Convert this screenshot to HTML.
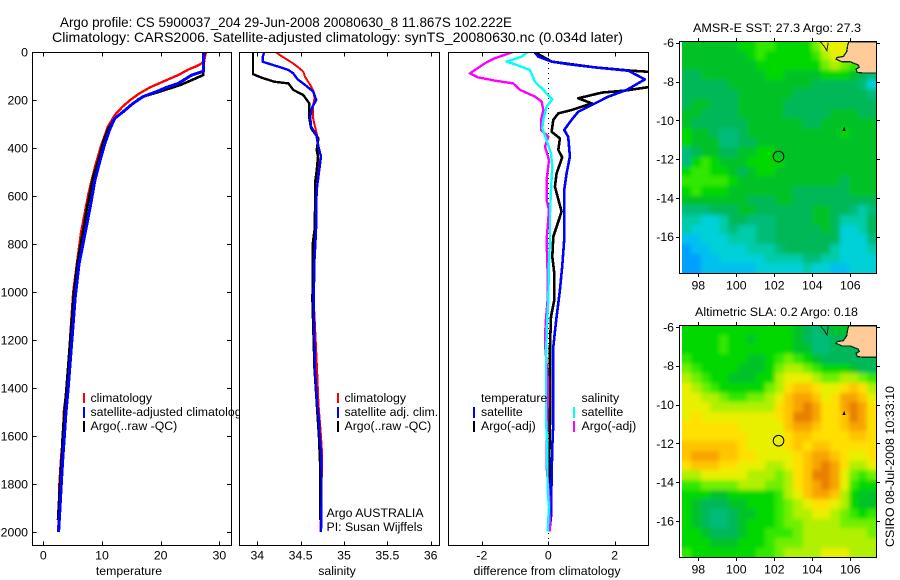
<!DOCTYPE html>
<html>
<head>
<meta charset="utf-8">
<title>Argo profile 5900037</title>
<style>
html,body{margin:0;padding:0;background:#fff;}
svg{display:block;}
text{font-family:"Liberation Sans",sans-serif;font-size:12.3px;fill:#000;}
.ttl{font-size:14px;}
</style>
</head>
<body>
<svg id="fig" width="900" height="580" viewBox="0 0 900 580" xmlns="http://www.w3.org/2000/svg">
<defs>
<clipPath id="clip-temp"><rect x="33" y="53" width="198" height="492"/></clipPath>
<clipPath id="clip-sal"><rect x="240" y="53" width="199" height="492"/></clipPath>
<clipPath id="clip-diff"><rect x="449" y="53" width="199" height="492"/></clipPath>
<clipPath id="clip-map1"><rect x="682" y="42" width="195" height="231"/></clipPath>
<clipPath id="clip-map2"><rect x="682" y="326" width="195" height="231"/></clipPath>
<filter id="soften" x="-5%" y="-5%" width="110%" height="110%">
<feGaussianBlur in="SourceGraphic" stdDeviation="2.2" result="blur"/>
<feMerge><feMergeNode in="SourceGraphic"/><feMergeNode in="blur"/></feMerge>
</filter>
</defs>
<text class="ttl" x="60" y="27" textLength="452" lengthAdjust="spacingAndGlyphs">Argo profile: CS 5900037_204 29-Jun-2008 20080630_8 11.867S 102.222E</text>
<text class="ttl" x="52" y="42" textLength="571" lengthAdjust="spacingAndGlyphs">Climatology: CARS2006. Satellite-adjusted climatology: synTS_20080630.nc (0.034d later)</text>

<g id="temp-plot"></g>
<g>
<rect x="83" y="393" width="2" height="10" fill="#ff0000"/>
<rect x="83" y="407" width="2" height="11" fill="#0000ff"/>
<rect x="83" y="421" width="2" height="11" fill="#000"/>
<text x="90.5" y="402">climatology</text>
<text x="90.5" y="416">satellite-adjusted climatology</text>
<text x="90.5" y="430">Argo(..raw -QC)</text>
</g>
<text x="129" y="575" text-anchor="middle">temperature</text>

<g id="sal-plot"></g>
<g>
<rect x="337" y="393" width="2" height="10" fill="#ff0000"/>
<rect x="337" y="407" width="2" height="11" fill="#0000ff"/>
<rect x="337" y="421" width="2" height="11" fill="#000"/>
<text x="344.5" y="402">climatology</text>
<text x="344.5" y="416">satellite adj. clim.</text>
<text x="344.5" y="430">Argo(..raw -QC)</text>
<text x="326.5" y="517">Argo AUSTRALIA</text>
<text x="326.5" y="531">PI: Susan Wijffels</text>
</g>
<text x="337" y="575" text-anchor="middle">salinity</text>

<g id="diff-plot"></g>
<g>
<rect x="473" y="407" width="2" height="11" fill="#0000ff"/>
<rect x="473" y="421" width="2" height="11" fill="#000"/>
<rect x="573" y="407" width="2" height="11" fill="#00ffff"/>
<rect x="573" y="421" width="2" height="11" fill="#ff00ff"/>
<text x="481" y="402">temperature</text>
<text x="481" y="416">satellite</text>
<text x="481" y="430">Argo(-adj)</text>
<text x="581.5" y="402">salinity</text>
<text x="581.5" y="416">satellite</text>
<text x="581.5" y="430">Argo(-adj)</text>
</g>
<text x="547" y="575" text-anchor="middle" textLength="147" lengthAdjust="spacingAndGlyphs">difference from climatology</text>

<text x="777" y="32" text-anchor="middle" textLength="168" lengthAdjust="spacingAndGlyphs">AMSR-E SST: 27.3 Argo: 27.3</text>
<g id="map1"></g>
<text x="776.5" y="316" text-anchor="middle" textLength="163" lengthAdjust="spacingAndGlyphs">Altimetric SLA: 0.2 Argo: 0.18</text>
<g id="map2"></g>
<text transform="translate(894,547) rotate(-90)" textLength="161" lengthAdjust="spacingAndGlyphs">CSIRO 08-Jul-2008 10:33:10</text>
</svg>

<script>
// ---------- axis ticks ----------
var depthTicks = [0,200,400,600,800,1000,1200,1400,1600,1800,2000];
var tempTicks = [0,10,20,30];
var salTicks = [34,34.5,35,35.5,36];
var diffTicks = [-2,0,2];
var lonTicks = [98,100,102,104,106];
var latTicks = [-6,-8,-10,-12,-14,-16];

// ---------- temperature profiles ----------
var tempClimDepth = [0,40,50,60,72,96,117,147,172,200,228,262,311,394,478,589,755,1000,1400,1500,1600,1700,1800,2000];
var tempClimValue = [27.7,27.4,26.8,26,24.8,23.0,21,18.2,16.4,14.8,13.5,12.2,11,9.8,8.8,7.7,6.4,5.1,4.0,3.5,3.35,3,2.75,2.55];
var tempSatDepth = [0,80,96,131,147,165,186,214,249,276,318,381,450,533,644,783,881,1019,1400,1500,1600,1700,1800,1900,2000];
var tempSatValue = [27.3,27.3,25.3,23,21,19.3,17,15.3,13.6,12.2,11.4,10.5,9.7,8.8,8,6.9,6.1,5.45,4.25,3.87,3.6,3.3,3.07,2.85,2.6];
var tempArgoDepth = [0,96,117,138,156,169,186,197,249,276,318,367,450,519,644,783,881,1006,1400,1500,1600,1700,1800,1950];
var tempArgoValue = [27.4,27.26,25.3,23.3,21,19.3,17,16.2,13.6,12.2,11.1,10.3,9.4,8.5,7.5,6.5,5.8,5.2,3.95,3.6,3.3,3.1,2.85,2.5];

// ---------- salinity profiles ----------
var salClimDepth = [0,22,44,63,82,103,137,165,193,228,269,311,346,408,464,519,589,644,707,783,867,1033,1324,1462,1600,1670,1740,1880,2000];
var salClimValue = [34.21,34.30,34.40,34.47,34.53,34.55,34.61,34.65,34.66,34.64,34.64,34.665,34.69,34.70,34.705,34.70,34.68,34.665,34.66,34.655,34.65,34.65,34.69,34.705,34.735,34.746,34.746,34.735,34.73];
var salSatDepth = [0,19,40,51,61,75,89,114,137,165,200,228,269,311,346,394,436,478,519,561,617,714,797,867,1033,1324,1462,1532,1600,1670,1740,1880,2000];
var salSatValue = [34.08,34.065,34.06,34.15,34.24,34.36,34.415,34.465,34.55,34.645,34.68,34.635,34.61,34.62,34.68,34.705,34.735,34.72,34.705,34.69,34.68,34.68,34.67,34.66,34.65,34.665,34.69,34.71,34.72,34.735,34.74,34.74,34.735];
var salArgoDepth = [0,92,107,124,131,158,179,214,249,276,318,360,408,436,492,547,617,658,742,797,867,1033,1324,1462,1600,1740,1880,1950];
var salArgoValue = [33.95,33.95,34.05,34.20,34.36,34.415,34.53,34.60,34.60,34.60,34.62,34.705,34.685,34.70,34.685,34.665,34.665,34.665,34.66,34.64,34.64,34.635,34.66,34.685,34.71,34.727,34.727,34.727];

// ---------- differences from climatology ----------
var diffTempSatDepth = [0,19,40,51,64,78,114,158,186,221,249,283,325,353,436,506,575,783,894,992,1103,1228,1408,1547,1644,1769,1936,1998];
var diffTempSatValue = [-0.42,-0.30,0.10,0.60,1.41,2.41,2.91,2.36,1.81,1.31,0.90,0.70,0.48,0.60,0.65,0.55,0.48,0.48,0.42,0.35,0.25,0.15,0.15,0.15,0.12,0.10,0.08,0.03];
var diffTempArgoDepth = [0,40,64,78,85,103,131,144,161,169,193,214,242,256,283,332,360,408,439,506,561,665,769,853,922,1033,1103,1228,1325,1547,1686,1950];
var diffTempArgoValue = [-0.42,0.10,1.41,2.51,3.32,3.92,3.92,3.12,2.31,1.61,0.90,1.31,0.70,0.30,0.15,0.10,0.35,0.30,0.42,0.25,0.20,0.40,0.15,0.12,0.18,0.18,0.08,0.05,0.05,0.05,0.03,0.03];
var diffSalArgoDepth = [0,26,47,89,106,119,131,158,186,207,242,283,325,353,394,450,533,617,658,783,922,1033,1131,1214,1353,1478,1672,1728,1839,1998];
var diffSalArgoValue = [-1.06,-1.61,-1.91,-2.36,-2.11,-1.61,-1.06,-0.85,-0.40,-0.20,-0.15,-0.22,-0.22,0,-0.10,0.02,-0.05,-0.05,0.02,-0.05,-0.02,-0.02,-0.08,-0.10,-0.02,-0.02,-0.05,-0.05,0.02,0.05];
var diffSalSatDepth = [0,19,40,54,75,124,158,197,228,283,318,367,422,478,575,672,783,867,1033,1131,1269,1533,1644,1825,1894,1998];
var diffSalSatValue = [-0.62,-0.80,-1.26,-0.95,-0.55,-0.40,-0.15,0.12,-0.05,-0.15,-0.18,-0.05,0.08,0.12,0.08,0.05,0.05,0.02,0,-0.04,-0.07,-0.07,-0.03,-0.02,0.02,-0.02];

// ---------- map colour levels ----------
var levelColors = ['#00a0ff','#00c0f0','#00d0d8','#00cca8','#00bc78','#00b858','#00c228','#00d800','#30e800','#70f000','#b0f000','#e8f000','#ffe000','#ffc400','#f8a400','#e88000'];

var sstGrid = [
[6,6,6,6,6,6,7,7,8,8,7,7,7,7,9,11,11,11,12,12,12],
[6,6,6,6,6,6,6,7,8,7,7,7,7,7,8,10,11,11,11,8,8],
[6,6,6,6,6,6,6,6,7,7,7,7,7,7,7,9,10,9,8,8,8],
[5,5,6,6,6,6,6,6,6,7,7,6,6,6,6,7,7,7,6,5,4],
[5,5,5,5,5,6,6,6,6,6,6,6,6,6,5,5,5,5,5,4,2],
[5,5,5,5,5,5,6,6,6,6,6,6,5,5,5,5,5,5,5,5,4],
[5,6,6,5,5,5,6,6,6,6,6,5,5,5,5,5,5,5,5,5,5],
[6,6,5,5,5,5,6,6,6,6,6,5,5,5,5,5,6,6,6,5,5],
[6,5,5,5,5,5,5,6,6,6,6,6,6,5,5,6,6,6,6,6,6],
[7,6,6,5,4,4,5,6,6,6,6,6,6,6,6,6,6,7,6,6,6],
[7,6,6,6,4,4,5,5,6,6,6,6,6,6,6,6,6,6,6,6,6],
[4,5,6,6,5,5,6,6,7,7,6,6,6,6,6,6,6,6,6,6,6],
[4,7,8,7,6,6,6,7,7,7,7,6,6,6,6,6,6,6,6,6,6],
[7,8,8,7,7,6,5,6,7,7,6,6,6,6,6,6,6,6,6,6,6],
[8,8,8,8,8,7,6,6,6,6,6,6,6,6,6,6,6,5,6,6,6],
[7,8,7,7,7,6,6,6,6,6,6,6,5,5,5,5,5,5,6,6,6],
[6,6,6,6,6,6,6,5,5,5,6,6,5,5,5,5,5,5,5,5,5],
[4,4,4,5,5,5,6,6,5,5,5,5,5,5,6,6,5,5,4,3,4],
[3,3,2,2,3,5,5,4,4,4,5,5,5,5,6,6,5,3,3,3,5],
[3,2,2,2,3,4,3,3,4,4,5,5,5,5,5,6,5,2,2,3,5],
[1,1,2,2,2,3,3,3,4,4,5,5,5,5,5,5,5,2,2,2,4],
[0,1,1,2,2,2,2,3,3,3,4,5,5,5,5,5,3,2,2,2,3],
[0,0,1,1,2,2,2,2,2,3,3,3,3,4,4,3,3,2,2,2,2],
[0,0,1,1,1,1,1,1,2,2,2,2,2,3,2,2,1,1,2,2,2]
];
var slaGrid = [
[7,7,7,7,7,7,7,7,7,7,7,7,6,5,4,5,6,6,6,8,9],
[7,7,7,7,8,7,7,6,7,7,7,7,6,5,4,4,5,5,6,6,6],
[7,7,7,7,8,7,7,7,7,7,7,7,6,6,4,4,5,5,5,5,5],
[8,7,7,7,7,7,7,6,6,7,8,9,8,7,6,5,5,5,5,5,5],
[9,8,7,7,7,7,6,6,6,7,9,10,10,9,8,7,7,7,6,5,5],
[10,9,8,7,7,6,6,6,7,7,10,11,11,11,10,9,9,10,10,9,8],
[11,10,9,8,7,7,7,7,7,9,10,12,13,13,12,11,11,12,13,12,10],
[11,11,10,10,9,8,8,9,9,10,11,13,14,14,13,11,12,14,14,13,11],
[11,11,11,10,10,10,10,10,10,10,12,13,14,15,14,12,12,14,15,14,12],
[11,12,11,11,11,11,11,11,11,11,12,13,15,15,14,12,12,13,15,14,12],
[12,12,12,12,12,12,11,11,11,11,11,13,14,14,13,12,12,13,14,14,12],
[12,12,12,12,12,12,12,11,11,11,11,12,13,13,12,12,12,12,13,13,12],
[13,13,13,13,13,13,12,11,11,11,11,12,13,12,13,13,12,12,12,12,12],
[13,14,14,14,13,13,12,12,11,11,11,11,12,13,14,14,13,12,11,11,12],
[12,13,13,13,12,12,11,11,11,10,10,11,12,13,14,15,14,12,10,10,11],
[10,10,11,11,11,11,11,10,10,10,9,10,12,13,15,15,14,11,9,8,9],
[8,8,9,9,9,9,10,10,10,9,9,10,12,13,14,15,14,11,8,7,7],
[7,7,7,6,6,7,7,7,7,7,8,10,11,13,14,14,13,10,7,6,6],
[7,6,5,5,5,6,6,7,7,7,8,9,10,11,12,12,11,10,7,6,6],
[7,6,5,4,4,5,6,6,7,7,8,9,10,10,11,11,10,9,8,7,8],
[7,6,5,4,4,5,6,7,7,7,8,9,9,10,10,10,10,9,9,9,9],
[7,7,6,5,5,5,6,7,7,8,8,8,9,10,10,10,10,10,10,10,9],
[7,7,7,6,6,6,7,7,7,8,9,9,9,10,10,10,10,10,10,10,10],
[8,7,7,7,7,7,7,7,8,8,9,10,10,10,10,11,11,11,10,10,10]
];

// ---------- coastlines and float position ----------
var landLon = [105.92,105.86,105.81,105.63,105.32,105.25,105.55,105.98,106.42,106.47,106.30,106.37,106.65,107.4,107.4];
var landLat = [-5.95,-6.15,-6.46,-6.71,-6.76,-6.84,-6.98,-6.98,-7.15,-7.27,-7.36,-7.53,-7.56,-7.56,-5.95];
var wedgeLon = [104.42,104.6,104.77,104.84];
var wedgeLat = [-5.95,-6.15,-6.41,-5.98];
var isletLon = [105.62,105.72,105.68,105.62];
var isletLat = [-10.52,-10.52,-10.40,-10.52];
var floatLon = [102.222];
var floatLat = [-11.867];

// ---------- helpers ----------
var NS = 'http://www.w3.org/2000/svg';
function mk(tag, attrs, parent){
  var e = document.createElementNS(NS, tag);
  for (var k in attrs) { e.setAttribute(k, attrs[k]); }
  parent.appendChild(e);
  return e;
}
function yDepth(d){ return 52 + 0.24*d; }
function xTemp(t){ return 43.3 + 5.87*t; }
function xSal(s){ return 257.3 + 86.7*(s-34); }
function xDiff(v){ return 548.3 + 33.2*v; }
function xLon(l){ return 698.3 + 19*(l-98); }
function yLat1(l){ return 159.1 + 19.4*(-12-l); }
function yLat2(l){ return 443.3 + 19.4*(-12-l); }

function drawTick(parent, x1, y1, x2, y2){
  var t = mk('line', {x1:x1,y1:y1,x2:x2,y2:y2,stroke:'#000','stroke-width':1,'shape-rendering':'crispEdges'}, parent);
  
  
}
function drawLabel(parent, x, y, anchor, str){
  var t = mk('text', {x:x,y:y,'text-anchor':anchor}, parent);
  t.textContent = str;
  
  
}
function drawFrame(parent, x, y, w, h){
  var f = mk('rect', {x:x,y:y,width:w,height:h,fill:'#fff',stroke:'#000','stroke-width':1,'shape-rendering':'crispEdges'}, parent);
  
  
}
function drawCurve(parent, xFn, depths, values, color, width, clip){
  var pts = [];
  for (var i=0;i<depths.length;i++){ pts.push(xFn(values[i]).toFixed(1)+','+yDepth(depths[i]).toFixed(1)); }
  var p = mk('polyline', {points:pts.join(' '),fill:'none',stroke:color,'stroke-width':width,'stroke-linejoin':'round','shape-rendering':'crispEdges','clip-path':'url(#'+clip+')'}, parent);
  
  
}

function drawProfileAxes(g, left, right, xFn, xt){
  drawFrame(g, left+0.5, 52.5, right-left, 493);
  xt.forEach(function(v){
    var x = Math.round(xFn(v))+0.5;
    drawTick(g, x, 53, x, 56.5);
    drawTick(g, x, 541.5, x, 545);
    drawLabel(g, xFn(v), 559.5, 'middle', String(v));
  });
}

// ---------- temperature panel ----------
var gT = document.getElementById('temp-plot');
drawProfileAxes(gT, 32, 231, xTemp, tempTicks);
depthTicks.forEach(function(d){
  var y = Math.round(yDepth(d))+0.5;
  drawTick(gT, 33, y, 36.5, y);
  drawTick(gT, 227, y, 231, y);
  drawLabel(gT, 28, yDepth(d)+4.5, 'end', String(d));
});
drawCurve(gT, xTemp, tempClimDepth, tempClimValue, '#ff0000', 2.4, 'clip-temp');
drawCurve(gT, xTemp, tempArgoDepth, tempArgoValue, '#000000', 2.6, 'clip-temp');
drawCurve(gT, xTemp, tempSatDepth, tempSatValue, '#0000ff', 3, 'clip-temp');

// ---------- salinity panel ----------
var gS = document.getElementById('sal-plot');
drawProfileAxes(gS, 239, 439, xSal, salTicks);
drawCurve(gS, xSal, salClimDepth, salClimValue, '#ff0000', 2, 'clip-sal');
drawCurve(gS, xSal, salArgoDepth, salArgoValue, '#000000', 2.4, 'clip-sal');
drawCurve(gS, xSal, salSatDepth, salSatValue, '#0000ff', 2.4, 'clip-sal');

// ---------- difference panel ----------
var gD = document.getElementById('diff-plot');
drawProfileAxes(gD, 448, 648, xDiff, diffTicks);
var zero = mk('line', {x1:548.5,y1:53,x2:548.5,y2:545,stroke:'#000','stroke-width':1,'stroke-dasharray':'1 4','shape-rendering':'crispEdges'}, gD);


drawCurve(gD, xDiff, diffTempArgoDepth, diffTempArgoValue, '#000000', 2.6, 'clip-diff');
drawCurve(gD, xDiff, diffTempSatDepth, diffTempSatValue, '#0000ff', 2.6, 'clip-diff');
drawCurve(gD, xDiff, diffSalArgoDepth, diffSalArgoValue, '#ff00ff', 2.4, 'clip-diff');
drawCurve(gD, xDiff, diffSalSatDepth, diffSalSatValue, '#00ffff', 2.4, 'clip-diff');

// ---------- maps ----------
function polyPts(lons, lats, yFn){
  var pts = [];
  for (var i=0;i<lons.length;i++){ pts.push(xLon(lons[i]).toFixed(1)+','+yFn(lats[i]).toFixed(1)); }
  return pts.join(' ');
}
function drawMap(g, grid, yFn, clip, top, bottom, xLabelY){
  var lonW = 10.25/grid[0].length, latH = 11.96/grid.length;
  var outer = mk('g', {'clip-path':'url(#'+clip+')'}, g);
  
  
  var cells = mk('g', {filter:'url(#soften)'}, outer);
  
  
  for (var r=0;r<grid.length;r++){
    for (var c=0;c<grid[r].length;c++){
      var x0 = Math.round(xLon(97.14+c*lonW));
      var x1 = Math.round(xLon(97.14+(c+1)*lonW));
      var y0 = Math.round(yFn(-5.91-r*latH));
      var y1 = Math.round(yFn(-5.91-(r+1)*latH));
      var cell = mk('rect', {x:x0,y:y0,width:x1-x0,height:y1-y0,fill:levelColors[grid[r][c]],'shape-rendering':'crispEdges'}, cells);
      
      
    }
  }
  var land = mk('polygon', {points:polyPts(landLon,landLat,yFn),fill:'#ffcc99',stroke:'#06301e','stroke-width':1.3,'shape-rendering':'crispEdges','clip-path':'url(#'+clip+')'}, g);
  
  
  var wedge = mk('polyline', {points:polyPts(wedgeLon,wedgeLat,yFn),fill:'none',stroke:'#06301e','stroke-width':1,'shape-rendering':'crispEdges','clip-path':'url(#'+clip+')'}, g);
  
  
  var islet = mk('polygon', {points:polyPts(isletLon,isletLat,yFn),fill:'#ffcc99',stroke:'#000','stroke-width':1,'shape-rendering':'crispEdges'}, g);
  
  
  var mark = mk('circle', {cx:xLon(floatLon[0]),cy:yFn(floatLat[0]),r:5.3,fill:'none',stroke:'#000','stroke-width':1}, g);
  
  
  var fr = mk('rect', {x:679.5,y:top+0.5,width:197,height:bottom-top,fill:'none',stroke:'#000','stroke-width':1,'shape-rendering':'crispEdges'}, g);
  
  
  lonTicks.forEach(function(l){
    var x = Math.round(xLon(l))+0.5;
    drawTick(g, x, top-3, x, top);
    drawTick(g, x, bottom+1, x, bottom+4);
    drawLabel(g, xLon(l), xLabelY, 'middle', String(l));
  });
  latTicks.forEach(function(l){
    var y = Math.round(yFn(l))+0.5;
    drawTick(g, 676, y, 679, y);
    drawTick(g, 877, y, 880, y);
    drawLabel(g, 674, yFn(l)+4.5, 'end', String(l));
  });
}
drawMap(document.getElementById('map1'), sstGrid, yLat1, 'clip-map1', 41, 273, 289.5);
drawMap(document.getElementById('map2'), slaGrid, yLat2, 'clip-map2', 325, 557, 573.5);
</script>
</body>
</html>
